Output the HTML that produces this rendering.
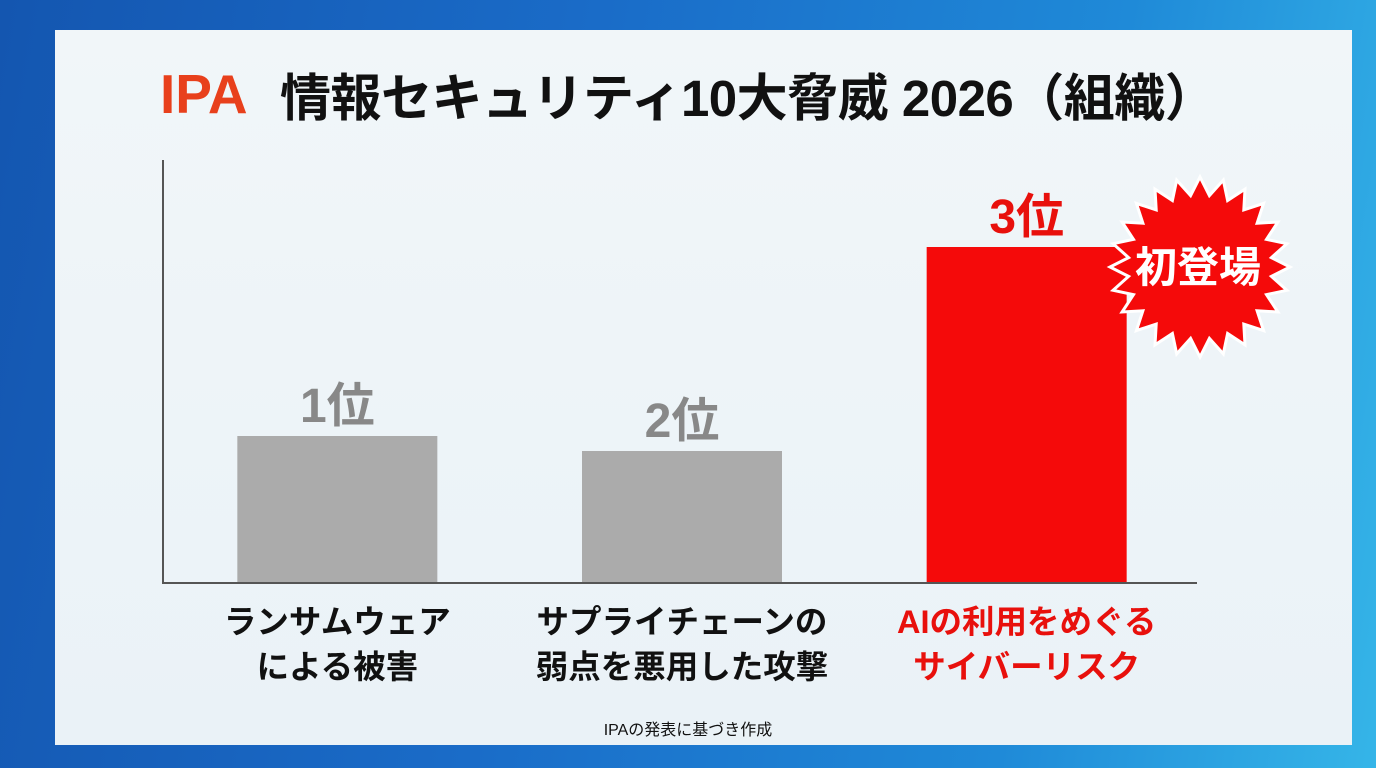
<!DOCTYPE html>
<html><head><meta charset="utf-8"><style>
html,body{margin:0;padding:0;width:1376px;height:768px;overflow:hidden}
body{background:linear-gradient(100deg,#1456b0 0%,#1a6cc8 40%,#1f8ad8 75%,#35b5e8 100%);font-family:"Liberation Sans","Noto Sans CJK JP",sans-serif;position:relative}
#panel{position:absolute;left:55px;top:30px;width:1297px;height:715px;background:linear-gradient(180deg,#f1f6f9,#eaf2f7)}
.t{position:absolute;white-space:nowrap;font-weight:bold}
</style></head><body>
<div id="panel"></div>
<div class="t" style="left:160px;top:62px;font-size:55px;color:#e8401c;letter-spacing:0px">IPA</div>
<div class="t" style="left:280px;top:57px;font-size:51px;color:#111;letter-spacing:-0.5px">情報セキュリティ10大脅威 2026（組織）</div>
<svg id="chart" width="1376" height="768" style="position:absolute;left:0;top:0"></svg>
<div class="t" style="left:0;width:1376px;text-align:center;top:716px;font-size:16px;font-weight:normal;color:#111">IPAの発表に基づき作成</div>
<script>
const categories=["ランサムウェア|による被害","サプライチェーンの|弱点を悪用した攻撃","AIの利用をめぐる|サイバーリスク"];
const values=[147,132,336];
const rankLabels=["1位","2位","3位"];
const colors=["#ababab","#ababab","#f50a0a"];
const labelColors=["#888888","#888888","#e8100c"];
const textColors=["#111","#111","#e8100c"];
const NS="http://www.w3.org/2000/svg";
const svg=document.getElementById('chart');
const x0=163,x1=1197,y0=583,yTop=160,yMax=423;
const y=v=>y0-v/yMax*(y0-yTop);
const band=(x1-x0)/3,bw=200;
const xc=i=>x0+band*(i+0.5)+2;
function mk(tag,attrs,txt){const e=document.createElementNS(NS,tag);for(const k in attrs)e.setAttribute(k,attrs[k]);if(txt!=null)e.textContent=txt;svg.appendChild(e);return e;}
values.forEach((v,i)=>{
  const r=mk('rect',{x:xc(i)-bw/2,y:y(v),width:bw,height:y0-y(v),fill:colors[i]});
  
  
  const t=mk('text',{x:xc(i),y:y(v)-14,'text-anchor':'middle','font-size':48,'font-weight':'bold',fill:labelColors[i],'font-family':'"Liberation Sans","Noto Sans CJK JP",sans-serif'},rankLabels[i]);
  
  
  categories[i].split('|').forEach((line,j)=>{
    const c=mk('text',{x:xc(i),y:633+j*45,'text-anchor':'middle','font-size':32.5,'font-weight':'bold',fill:textColors[i],'font-family':'"Liberation Sans","Noto Sans CJK JP",sans-serif'},line);
    
    
  });
});
const ya=mk('line',{x1:x0,y1:yTop,x2:x0,y2:y0+1,stroke:'#555','stroke-width':2});


const xa=mk('line',{x1:x0,y1:y0,x2:x1,y2:y0,stroke:'#555','stroke-width':2});


const cx=1200,cy=267,n=24;let pts=[];
for(let k=0;k<n*2;k++){const a=Math.PI*k/n-Math.PI/2;const r=k%2?72:90;pts.push((cx+r*Math.cos(a)).toFixed(1)+','+(cy+r*Math.sin(a)).toFixed(1));}
const sb=mk('polygon',{points:pts.join(' '),fill:'#f50a0a',stroke:'#fff','stroke-width':3});


const st=mk('text',{x:cx-2,y:cy+15,'text-anchor':'middle','font-size':42,'font-weight':'bold',fill:'#fff','font-family':'"Liberation Sans","Noto Sans CJK JP",sans-serif'},'初登場');


</script>
</body></html>
